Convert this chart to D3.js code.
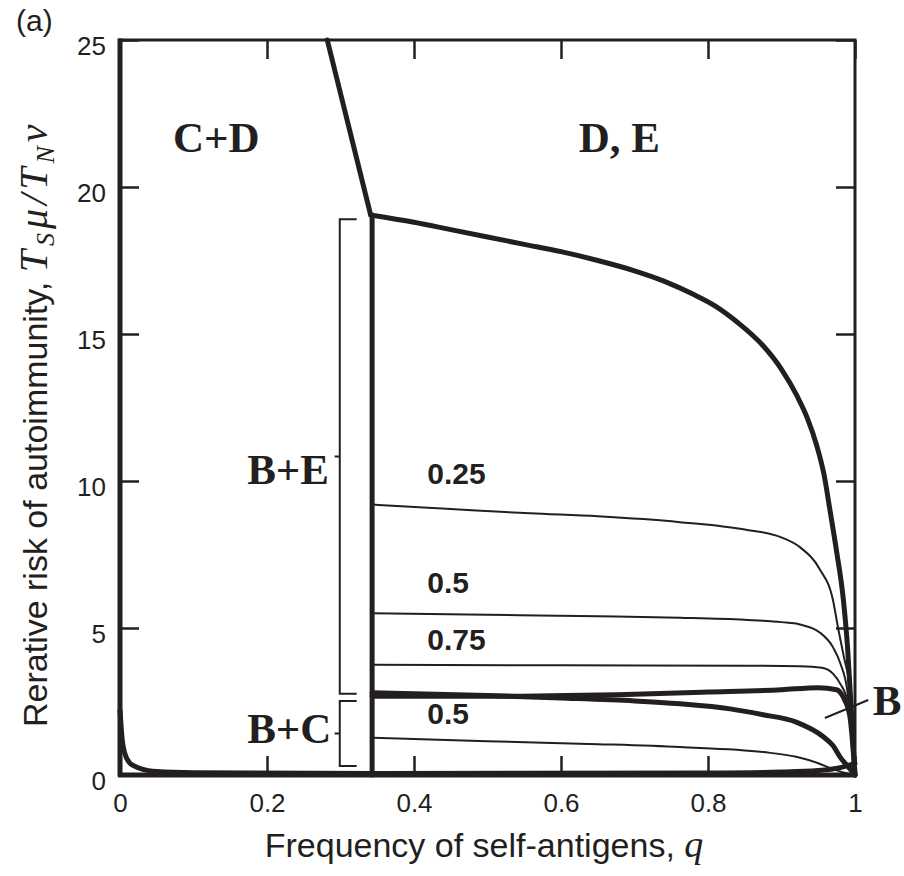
<!doctype html>
<html>
<head>
<meta charset="utf-8">
<title>Rerative risk of autoimmunity</title>
<script src="https://d3js.org/d3.v7.min.js"></script>
<style>
  body { margin: 0; background: #fff; }
  svg text { fill: #231f20; }
  .tick text { font-family: "Liberation Sans", Arial, sans-serif; font-size: 26px; }
  .region { font-family: "Liberation Serif", "Times New Roman", serif; font-weight: bold; font-size: 43px; }
  .val { font-family: "Liberation Sans", Arial, sans-serif; font-weight: bold; font-size: 30px; }
</style>
</head>
<body>
<svg width="904" height="876"></svg>
<script>
// axis ticks
var xTicks = [0, 0.2, 0.4, 0.6, 0.8, 1];
var yTicks = [0, 5, 10, 15, 20, 25];

// boundary between D,E and the lower regions
var boundQ = [0.282, 0.341, 0.40, 0.45, 0.50, 0.55, 0.60, 0.65, 0.70, 0.74, 0.78, 0.81, 0.84, 0.875, 0.90, 0.921, 0.935, 0.948, 0.958, 0.966, 0.975, 0.984, 0.99, 0.995, 0.998, 1.0];
var boundV = [25, 19.05, 18.8, 18.55, 18.3, 18.05, 17.8, 17.5, 17.15, 16.8, 16.35, 15.95, 15.4, 14.6, 13.8, 12.9, 12.15, 11.2, 10.2, 9.0, 7.6, 6.0, 4.3, 2.2, 0.8, 0];

// thin curves labelled 0.25, 0.5, 0.75 (upper) and 0.5 (lower)
var c025Q = [0.343, 0.45, 0.558, 0.65, 0.762, 0.85, 0.898, 0.925, 0.952, 0.97, 0.977, 0.985, 0.993, 1.0];
var c025V = [9.2, 9.05, 8.9, 8.8, 8.6, 8.35, 8.1, 7.75, 7.0, 5.95, 5.0, 4.0, 2.9, 0];
var c05Q = [0.343, 0.5, 0.65, 0.762, 0.85, 0.9, 0.925, 0.952, 0.97, 0.98, 0.99, 1.0];
var c05V = [5.5, 5.45, 5.4, 5.35, 5.28, 5.2, 5.12, 4.85, 4.35, 3.8, 2.8, 0];
var c075Q = [0.343, 0.6, 0.85, 0.925, 0.955, 0.97, 0.98, 0.99, 1.0];
var c075V = [3.75, 3.73, 3.72, 3.7, 3.65, 3.45, 3.1, 2.5, 0];
var c05lowQ = [0.343, 0.5, 0.65, 0.762, 0.875, 0.92, 0.95, 0.97, 0.99, 1.0];
var c05lowV = [1.27, 1.15, 1.05, 0.95, 0.78, 0.62, 0.4, 0.2, 0.05, 0];

// thick curves around region B
var bUpQ = [0.343, 0.5, 0.7, 0.8, 0.9, 0.95, 0.975, 0.985, 0.993, 1.0];
var bUpV = [2.68, 2.68, 2.75, 2.82, 2.9, 2.97, 2.9, 2.6, 2.0, 0];
var bLowQ = [0.343, 0.5, 0.6, 0.7, 0.762, 0.83, 0.875, 0.92, 0.957, 0.97, 0.98, 0.99, 1.0];
var bLowV = [2.8, 2.7, 2.62, 2.52, 2.42, 2.25, 2.05, 1.8, 1.3, 1.0, 0.6, 0.3, 0];

// thick curve near zero
var zeroQ = [0.0, 0.003, 0.007, 0.012, 0.02, 0.03, 0.05, 0.1, 0.35, 0.8, 0.9, 0.95, 0.98, 1.0];
var zeroV = [2.2, 1.2, 0.7, 0.45, 0.3, 0.2, 0.12, 0.08, 0.05, 0.07, 0.1, 0.15, 0.25, 0.4];

// vertical boundary at q = 0.343
var vertQ = [0.343, 0.343];
var vertV = [0, 19.05];

// brackets [top, bottom] in y units
var brackets = [[18.9, 2.76], [2.52, 0.31]];
var bracketQ = [0.299, 0.322, 0.292];

var curveLabels = [
  {text: "0.25", q: 0.418, v: 9.9},
  {text: "0.5", q: 0.418, v: 6.2},
  {text: "0.75", q: 0.418, v: 4.25},
  {text: "0.5", q: 0.418, v: 1.75}
];
var regionLabels = [
  {text: "C+D", q: 0.072, v: 21.2},
  {text: "D, E", q: 0.624, v: 21.2},
  {text: "B+E", q: 0.173, v: 9.9},
  {text: "B+C", q: 0.173, v: 1.1},
  {text: "B", q: 1.024, v: 2.05}
];
var bLeader = [[0.959, 1.94], [1.018, 2.55]];

var svg = d3.select("svg");
var x = d3.scaleLinear().domain([0, 1]).range([120, 855]);
var y = d3.scaleLinear().domain([0, 25]).range([775, 40]);
var ink = "#231f20";

function pts(qs, vs) {
  return qs.map(function(q, i) { return [q, vs[i]]; });
}
var line = d3.line()
  .x(function(d) { return x(d[0]); })
  .y(function(d) { return y(d[1]); })
  .curve(d3.curveMonotoneX);
var lineLin = d3.line()
  .x(function(d) { return x(d[0]); })
  .y(function(d) { return y(d[1]); });

var g = svg.append("g");

function draw(data, w, gen) {
  g.append("path")
    .attr("d", (gen || line)(data))
    .attr("fill", "none")
    .attr("stroke", ink)
    .attr("stroke-width", w)
    .attr("stroke-linejoin", "round")
    .attr("stroke-linecap", "round");
}

draw(pts(c025Q, c025V), 2);
draw(pts(c05Q, c05V), 2);
draw(pts(c075Q, c075V), 2);
draw(pts(c05lowQ, c05lowV), 2);
draw(pts(bUpQ, bUpV), 5);
draw(pts(bLowQ, bLowV), 5);
draw(pts(zeroQ, zeroV), 5);
draw(pts(vertQ, vertV), 5, lineLin);
// boundary: straight piece above the kink, curve after it
draw(pts(boundQ.slice(0, 2), boundV.slice(0, 2)), 5, lineLin);
draw(pts(boundQ.slice(1), boundV.slice(1)), 5);

// brackets
brackets.forEach(function(b) {
  var mid = (b[0] + b[1]) / 2;
  g.append("path")
    .attr("d", "M" + x(bracketQ[1]) + "," + y(b[0]) + "H" + x(bracketQ[0]) +
      "V" + y(b[1]) + "H" + x(bracketQ[1]) +
      "M" + x(bracketQ[0]) + "," + y(mid) + "H" + x(bracketQ[2]))
    .attr("fill", "none")
    .attr("stroke", ink)
    .attr("stroke-width", 2);
});

// leader line for B
g.append("line")
  .attr("x1", x(bLeader[0][0])).attr("y1", y(bLeader[0][1]))
  .attr("x2", x(bLeader[1][0])).attr("y2", y(bLeader[1][1]))
  .attr("stroke", ink).attr("stroke-width", 2);

// frame
svg.append("rect")
  .attr("x", x(0)).attr("y", y(25))
  .attr("width", x(1) - x(0)).attr("height", y(0) - y(25))
  .attr("fill", "none").attr("stroke", ink).attr("stroke-width", 3);
svg.append("line")
  .attr("x1", x(0)).attr("x2", x(0)).attr("y1", y(25) - 1.5).attr("y2", y(0) + 1.5)
  .attr("stroke", ink).attr("stroke-width", 5);
svg.append("line")
  .attr("x1", x(0) - 2).attr("x2", x(1) + 1.5).attr("y1", y(0)).attr("y2", y(0))
  .attr("stroke", ink).attr("stroke-width", 5);

// axes with inward ticks
function styleAxis(sel) {
  sel.select(".domain").remove();
  sel.selectAll(".tick line").attr("stroke", ink).attr("stroke-width", 2.5);
  sel.selectAll(".tick text").attr("fill", ink);
}
var fmt = function(d) { return d3.format("~g")(d); };

svg.append("g")
  .attr("transform", "translate(0," + y(0) + ")")
  .call(d3.axisBottom(x).tickValues(xTicks).tickFormat(fmt).tickSizeInner(-19).tickSizeOuter(0).tickPadding(19))
  .call(styleAxis);
svg.append("g")
  .attr("transform", "translate(0," + y(25) + ")")
  .call(d3.axisTop(x).tickValues(xTicks).tickFormat("").tickSizeInner(-19).tickSizeOuter(0))
  .call(styleAxis);
svg.append("g")
  .attr("transform", "translate(" + x(0) + ",0)")
  .call(d3.axisLeft(y).tickValues(yTicks).tickFormat(fmt).tickSizeInner(-19).tickSizeOuter(0).tickPadding(14))
  .call(styleAxis)
  .selectAll(".tick text").attr("dy", "0.55em");
svg.append("g")
  .attr("transform", "translate(" + x(1) + ",0)")
  .call(d3.axisRight(y).tickValues(yTicks).tickFormat("").tickSizeInner(-19).tickSizeOuter(0))
  .call(styleAxis);

// labels inside the plot
svg.selectAll("text.region")
  .data(regionLabels).enter().append("text")
  .attr("class", "region")
  .attr("x", function(d) { return x(d.q); })
  .attr("y", function(d) { return y(d.v); })
  .text(function(d) { return d.text; });

svg.selectAll("text.val")
  .data(curveLabels).enter().append("text")
  .attr("class", "val")
  .attr("x", function(d) { return x(d.q); })
  .attr("y", function(d) { return y(d.v); })
  .text(function(d) { return d.text; });

// panel letter
svg.append("text")
  .attr("x", 16).attr("y", 31)
  .style("font-family", "Liberation Sans, Arial, sans-serif")
  .style("font-size", "30px")
  .text("(a)");

// x title
var xt = svg.append("text")
  .attr("x", 484).attr("y", 857)
  .attr("text-anchor", "middle")
  .style("font-family", "Liberation Sans, Arial, sans-serif")
  .style("font-size", "34px");
xt.append("tspan").text("Frequency of self-antigens, ");
xt.append("tspan")
  .style("font-family", "Liberation Serif, Times New Roman, serif")
  .style("font-style", "italic")
  .style("font-size", "38px")
  .text("q");

// y title
var yt = svg.append("text")
  .attr("transform", "translate(47,727) rotate(-90)")
  .style("font-family", "Liberation Sans, Arial, sans-serif")
  .style("font-size", "34px");
yt.append("tspan").text("Rerative risk of autoimmunity, ");
var serif = "Liberation Serif, Times New Roman, serif";
function mathPart(t, sub) {
  return yt.append("tspan")
    .style("font-family", serif)
    .style("font-style", "italic")
    .style("font-size", sub ? "26px" : "40px")
    .style("letter-spacing", "4px")
    .text(t);
}
mathPart("T");
mathPart("S", true).attr("dy", 7);
mathPart("\u03bc/T").attr("dy", -7);
mathPart("N", true).attr("dy", 7);
mathPart("\u03bd").attr("dy", -7);
</script>
</body>
</html>
